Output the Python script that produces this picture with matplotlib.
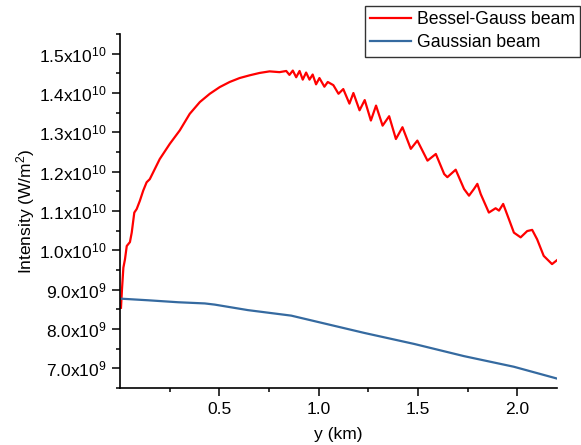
import numpy as np
import matplotlib
matplotlib.use("Agg")
import matplotlib.pyplot as plt
from matplotlib.ticker import FixedLocator, FuncFormatter

plt.rcParams['font.family'] = ['Liberation Sans', 'DejaVu Sans']
plt.rcParams['mathtext.fontset'] = 'custom'
plt.rcParams['mathtext.rm'] = 'Liberation Sans'

# Bessel-Gauss beam, y in km, intensity in units of 1e9 W/m^2
bg_y = [0.005, 0.010, 0.017, 0.025, 0.034, 0.050, 0.059, 0.072, 0.084, 0.100,
        0.117, 0.134, 0.150, 0.200, 0.251, 0.301, 0.351, 0.402, 0.452, 0.502,
        0.552, 0.602, 0.653, 0.703, 0.753, 0.803, 0.837, 0.853, 0.870, 0.887,
        0.904, 0.920, 0.937, 0.954, 0.970, 0.987, 1.004, 1.029, 1.046, 1.074,
        1.100, 1.124, 1.155, 1.175, 1.206, 1.232, 1.263, 1.289, 1.322, 1.355,
        1.389, 1.422, 1.464, 1.497, 1.548, 1.590, 1.632, 1.648, 1.690, 1.732,
        1.757, 1.782, 1.799, 1.816, 1.857, 1.891, 1.908, 1.929, 1.958, 1.983,
        2.017, 2.050, 2.075, 2.100, 2.133, 2.175, 2.200]
bg_int = [8.54, 9.01, 9.56, 9.77, 10.11, 10.21, 10.45, 10.96, 11.05, 11.26,
          11.52, 11.73, 11.81, 12.32, 12.71, 13.05, 13.47, 13.77, 13.98, 14.15,
          14.28, 14.38, 14.45, 14.51, 14.55, 14.53, 14.56, 14.46, 14.57, 14.40,
          14.56, 14.34, 14.52, 14.34, 14.47, 14.22, 14.38, 14.16, 14.28, 14.20,
          13.98, 14.10, 13.73, 14.00, 13.56, 13.82, 13.30, 13.68, 13.17, 13.41,
          12.83, 13.13, 12.58, 12.79, 12.28, 12.45, 11.94, 11.86, 12.05, 11.56,
          11.39, 11.56, 11.69, 11.43, 10.96, 11.07, 11.01, 11.18, 10.79, 10.45,
          10.33, 10.49, 10.52, 10.28, 9.86, 9.65, 9.75]

# Gaussian beam
g_y = [0.008, 0.142, 0.293, 0.427, 0.477, 0.644, 0.862, 0.979, 1.230, 1.481, 1.732, 1.983, 2.200]
g_int = [8.77, 8.73, 8.68, 8.65, 8.62, 8.48, 8.34, 8.20, 7.90, 7.62, 7.31, 7.04, 6.74]

x_major = [0.5, 1.0, 1.5, 2.0]
x_minor = [0.25, 0.75, 1.25, 1.75]
y_major = [7e9, 8e9, 9e9, 1e10, 1.1e10, 1.2e10, 1.3e10, 1.4e10, 1.5e10]
y_minor = [6.5e9, 7.5e9, 8.5e9, 9.5e9, 1.05e10, 1.15e10, 1.25e10, 1.35e10, 1.45e10, 1.55e10]

fig = plt.figure(figsize=(5.81, 4.45), dpi=100)
ax = fig.add_axes([120/581, 57/445, 437/581, 354/445])

ax.plot(bg_y, np.array(bg_int) * 1e9, color='#FF0000', lw=1.6, label='Bessel-Gauss beam')
ax.plot(g_y, np.array(g_int) * 1e9, color='#356AA0', lw=1.6, label='Gaussian beam')

ax.set_xlim(0.0, 2.2)
ax.set_ylim(6.5e9, 1.55e10)

def yfmt(v, pos):
    e = int(np.floor(np.log10(v)))
    m = v / 10**e
    return r'$\mathregular{%.1fx10^{%d}}$' % (m, e)

ax.xaxis.set_major_locator(FixedLocator(x_major))
ax.xaxis.set_minor_locator(FixedLocator(x_minor))
ax.yaxis.set_major_locator(FixedLocator(y_major))
ax.yaxis.set_minor_locator(FixedLocator(y_minor))
ax.yaxis.set_major_formatter(FuncFormatter(yfmt))
ax.xaxis.set_major_formatter(FuncFormatter(lambda v, p: '%.1f' % v))

ax.tick_params(which='major', direction='out', length=6, width=1.1, labelsize=12.5, pad=4)
ax.tick_params(which='minor', direction='out', length=3, width=1.1)

for s in ['top', 'right']:
    ax.spines[s].set_visible(False)
for s in ['left', 'bottom']:
    ax.spines[s].set_linewidth(1.2)

ax.set_xlabel('y (km)', fontsize=12.5, labelpad=7)
ax.set_ylabel(r'Intensity (W/m$\mathregular{^2}$)', fontsize=12.5, labelpad=1)

leg = ax.legend(loc='upper right', bbox_to_anchor=(580/581, 1 - 6/445),
                bbox_transform=fig.transFigure, borderaxespad=0,
                fontsize=12.7, frameon=True, fancybox=False, framealpha=1,
                edgecolor='#333333', handlelength=2.3, handletextpad=0.35,
                borderpad=0.3, labelspacing=0.35)
leg.get_frame().set_linewidth(1.0)

fig.savefig('out.png', dpi=100)
